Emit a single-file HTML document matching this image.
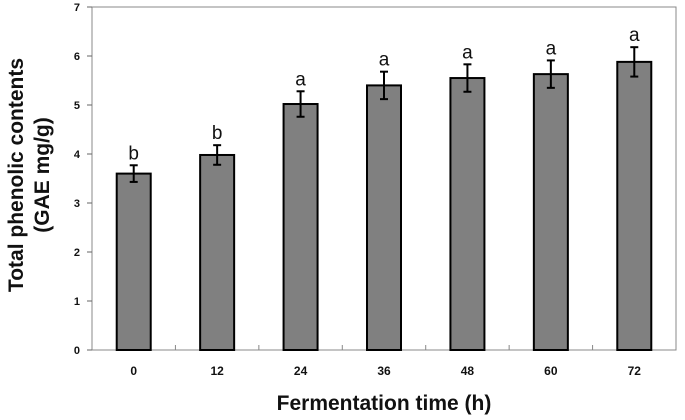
<!DOCTYPE html>
<html><head><meta charset="utf-8"><style>
html,body{margin:0;padding:0;background:#fff;width:685px;height:420px;overflow:hidden}
text{font-family:"Liberation Sans","DejaVu Sans",sans-serif}
</style></head><body>
<svg id="chart" width="685" height="420" xmlns="http://www.w3.org/2000/svg"></svg>
<script>
const categories=["0","12","24","36","48","60","72"];
const values=[3.6,3.98,5.02,5.4,5.55,5.63,5.88];
const errors=[0.17,0.2,0.26,0.28,0.28,0.28,0.3];
const letters=["b","b","a","a","a","a","a"];
const yTicks=[0,1,2,3,4,5,6,7];
const NS="http://www.w3.org/2000/svg";
const svg=document.getElementById('chart');
const L=92,R=676,T=7,B=350,yMax=7;
const bw=(R-L)/categories.length;
const y=v=>B-(v/yMax)*(B-T);
const xc=i=>L+bw*(i+0.5);
function mk(tag,attrs,parent){const e=document.createElementNS(NS,tag);for(const k in attrs)e.setAttribute(k,attrs[k]);(parent||svg).appendChild(e);return e;}
let f=mk('rect',{x:L,y:T,width:R-L,height:B-T,fill:'none',stroke:'#888','stroke-width':1});


yTicks.forEach(t=>{
 let tk=mk('line',{x1:L-5,x2:L,y1:y(t),y2:y(t),stroke:'#666'});
 
 
 let lb=mk('text',{x:L-12,y:y(t)+4,'text-anchor':'end','font-size':11,'font-weight':'bold',fill:'#111'});
 lb.textContent=t;
 
 
});
for(let i=1;i<categories.length;i++){
 let tk=mk('line',{x1:L+bw*i,x2:L+bw*i,y1:B,y2:B-5,stroke:'#888'});
 
 
}
categories.forEach((c,i)=>{
 const cx=xc(i),top=y(values[i]);
 let b=mk('rect',{x:cx-17,y:top,width:34,height:B-top,fill:'#808080',stroke:'#000','stroke-width':2});
 
 
 const eh=y(values[i]+errors[i]),el=y(values[i]-errors[i]);
 let g=mk('g',{stroke:'#000','stroke-width':2});
 
 
 mk('line',{x1:cx,x2:cx,y1:eh,y2:el},g);
 mk('line',{x1:cx-4,x2:cx+4,y1:eh,y2:eh},g);
 mk('line',{x1:cx-4,x2:cx+4,y1:el,y2:el},g);
 let lt=mk('text',{x:cx,y:eh-6,'text-anchor':'middle','font-size':19,fill:'#111'});
 lt.textContent=letters[i];
 
 
 let xl=mk('text',{x:cx,y:B+25,'text-anchor':'middle','font-size':12,'font-weight':'bold',fill:'#111'});
 xl.textContent=c;
 
 
});
let xt=mk('text',{x:384,y:410,'text-anchor':'middle','font-size':21,'font-weight':'bold',fill:'#111'});
xt.textContent='Fermentation time (h)';


let yt=mk('text',{transform:'translate(23,175) rotate(-90)','text-anchor':'middle','font-size':21,'font-weight':'bold',fill:'#111'});


let t1=mk('tspan',{x:0,dy:0},yt);t1.textContent='Total phenolic contents';
let t2=mk('tspan',{x:0,dy:26},yt);t2.textContent='(GAE mg/g)';
</script>
</body></html>
